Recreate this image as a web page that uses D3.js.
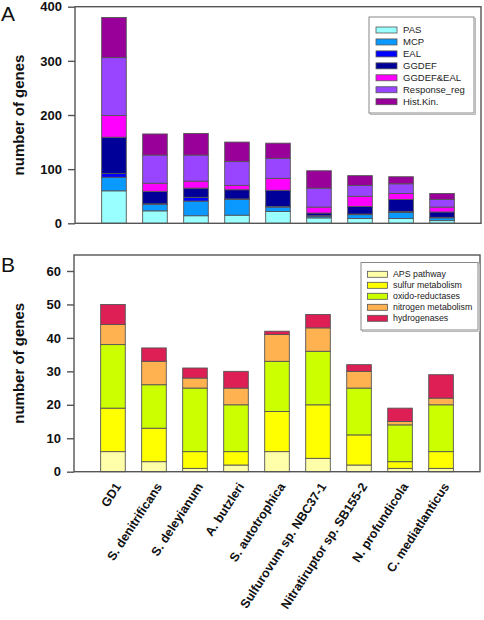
<!DOCTYPE html>
<html>
<head>
<meta charset="utf-8">
<script src="https://cdn.jsdelivr.net/npm/d3@7"></script>
<style>
  html, body { margin: 0; padding: 0; background: #fff; }
  svg { display: block; font-family: "Liberation Sans", Arial, sans-serif; }
</style>
</head>
<body>
<svg id="chart" width="484" height="620"></svg>
<script>
// ---------- DATA ----------
const categories = ["GD1", "S. denitrificans", "S. deleyianum", "A. butzleri", "S. autotrophica",
  "Sulfurovum sp. NBC37-1", "Nitratiruptor sp. SB155-2", "N. profundicola", "C. mediatlanticus"];

// Panel A series (signal transduction genes)
const seriesA = ["PAS", "MCP", "EAL", "GGDEF", "GGDEF&EAL", "Response_reg", "Hist.Kin."];
const PAS          = [60, 23, 14, 15, 22, 10,  9,  9,  5];
const MCP          = [25, 12, 27, 29,  8,  3,  7, 11,  5];
const EAL          = [ 7,  1,  7,  1,  1,  1,  1,  2,  1];
const GGDEF        = [67, 23, 17, 17, 30,  5, 14, 22, 10];
const GGDEF_EAL    = [40, 15, 13,  8, 22, 11, 19, 11,  9];
const Response_reg = [107, 52, 48, 44, 37, 35, 20, 18, 14];
const HistKin      = [74, 39, 40, 36, 28, 32, 18, 13, 11];
const colorsA = ["#99ffff", "#0a99ff", "#0000ff", "#000099", "#ff00ff", "#9944ff", "#990099"];
const ticksA = [0, 100, 200, 300, 400];

// Panel B series (energy metabolism genes)
const seriesB = ["APS pathway", "sulfur metabolism", "oxido-reductases", "nitrogen metabolism", "hydrogenases"];
const APS       = [6, 3, 1, 2, 6, 4, 2, 1, 1];
const sulfur    = [13, 10, 5, 4, 12, 16, 9, 2, 5];
const oxido     = [19, 13, 19, 14, 15, 16, 14, 11, 14];
const nitrogen  = [6, 7, 3, 5, 8, 7, 5, 1, 2];
const hydro     = [6, 4, 3, 5, 1, 4, 2, 4, 7];
const colorsB = ["#ffffaa", "#ffff00", "#ccff00", "#ffb24f", "#dd1f55"];
const ticksB = [0, 10, 20, 30, 40, 50, 60];

const valuesA = [PAS, MCP, EAL, GGDEF, GGDEF_EAL, Response_reg, HistKin];
const valuesB = [APS, sulfur, oxido, nitrogen, hydro];

// ---------- DRAW ----------
const svg = d3.select("#chart");

function panel(cfg) {
  const g = svg.append("g");
  const x = d3.scaleBand().domain(categories).range([cfg.left, cfg.right])
    .paddingInner(0.4).paddingOuter(0.65);
  const y = d3.scaleLinear().domain(cfg.domain).range([cfg.bottom, cfg.top]);

  const rows = categories.map((c, i) => {
    const o = { cat: c };
    cfg.keys.forEach((k, j) => o[k] = cfg.values[j][i]);
    return o;
  });
  const stacked = d3.stack().keys(cfg.keys)(rows);
  const color = d3.scaleOrdinal().domain(cfg.keys).range(cfg.colors);

  g.selectAll("g.layer").data(stacked).join("g")
    .attr("class", "layer")
    .attr("fill", d => color(d.key))
    .selectAll("rect").data(d => d).join("rect")
    .attr("x", d => x(d.data.cat))
    .attr("width", x.bandwidth())
    .attr("y", d => y(d[1]))
    .attr("height", d => y(d[0]) - y(d[1]))
    .attr("stroke", "#555")
    .attr("stroke-width", 0.9);

  // frame
  g.append("rect")
    .attr("x", cfg.left).attr("y", cfg.top)
    .attr("width", cfg.right - cfg.left).attr("height", cfg.bottom - cfg.top)
    .attr("fill", "none").attr("stroke", "#555").attr("stroke-width", 1.4);

  // y axis
  const ax = g.append("g").attr("transform", `translate(${cfg.left},0)`)
    .call(d3.axisLeft(y).tickValues(cfg.ticks).tickSize(7).tickPadding(6));
  ax.select(".domain").remove();
  ax.selectAll(".tick line").attr("stroke", "#555").attr("stroke-width", 1.4);
  ax.selectAll(".tick text").attr("font-family", "Liberation Sans, Arial, sans-serif")
    .attr("font-size", 13).attr("font-weight", "bold").attr("fill", "#111");

  // y title
  g.append("text")
    .attr("transform", `translate(${cfg.titleX},${(cfg.top + cfg.bottom) / 2}) rotate(-90)`)
    .attr("text-anchor", "middle")
    .attr("font-size", 15).attr("font-weight", "bold").attr("fill", "#111")
    .text("number of genes");

  // panel letter
  g.append("text").attr("x", cfg.letterX).attr("y", cfg.letterY)
    .attr("font-size", 21).attr("fill", "#111").text(cfg.letter);

  // legend
  const L = cfg.legend;
  g.append("rect").attr("x", L.x + 1.5).attr("y", L.y + 1.5).attr("width", L.w).attr("height", L.h)
    .attr("fill", "none").attr("stroke", "#bbb").attr("stroke-width", 1);
  g.append("rect").attr("x", L.x).attr("y", L.y).attr("width", L.w).attr("height", L.h)
    .attr("fill", "#fff").attr("stroke", "#888").attr("stroke-width", 1);
  cfg.keys.forEach((k, i) => {
    const cy = L.row0 + i * L.step;
    g.append("rect").attr("x", L.sx).attr("y", cy - L.sh / 2).attr("width", L.sw).attr("height", L.sh)
      .attr("fill", color(k)).attr("stroke", "#555").attr("stroke-width", 0.8);
    g.append("text").attr("x", L.tx).attr("y", cy).attr("dy", "0.35em")
      .attr("font-size", L.fs).attr("fill", "#222").text(k);
  });

  return { x, y };
}

panel({
  keys: seriesA, values: valuesA, colors: colorsA, ticks: ticksA,
  left: 75, right: 481, top: 6.7, bottom: 223.3, domain: [0, 400],
  titleX: 24, letter: "A", letterX: 1, letterY: 21,
  legend: { x: 369, y: 17, w: 105, h: 96, row0: 30, step: 11.95, sx: 376, sw: 21, sh: 6, tx: 403, fs: 9.5 }
});

const pB = panel({
  keys: seriesB, values: valuesB, colors: colorsB, ticks: ticksB,
  left: 74, right: 480, top: 255, bottom: 471.7, domain: [0, 64.78],
  titleX: 24, letter: "B", letterX: 1, letterY: 272,
  legend: { x: 361, y: 262.5, w: 117, h: 67.5, row0: 274.3, step: 11, sx: 367.5, sw: 20, sh: 6, tx: 393, fs: 8.8 }
});

// x labels (below panel B)
svg.append("g").selectAll("text").data(categories).join("text")
  .attr("transform", d => `translate(${pB.x(d) + pB.x.bandwidth() / 2 + 5},${484}) rotate(-57)`)
  .attr("text-anchor", "end").attr("dy", "0.35em")
  .attr("font-size", 12.5).attr("font-weight", "bold").attr("fill", "#111")
  .text(d => d);
</script>
</body>
</html>
